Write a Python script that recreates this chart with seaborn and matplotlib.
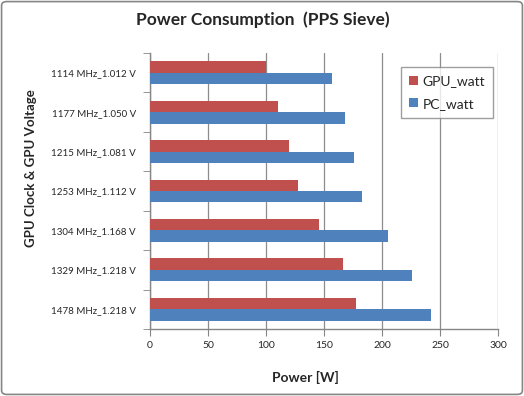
import matplotlib
matplotlib.use("Agg")
import matplotlib.pyplot as plt
import seaborn as sns
import pandas as pd
from matplotlib.patches import FancyBboxPatch
from matplotlib.ticker import FixedLocator, MultipleLocator

categories = ["1114 MHz_1.012 V", "1177 MHz_1.050 V", "1215 MHz_1.081 V",
              "1253 MHz_1.112 V", "1304 MHz_1.168 V", "1329 MHz_1.218 V",
              "1478 MHz_1.218 V"]
gpu_watt = [100, 110, 120, 128, 146, 166, 178]
pc_watt = [157, 168, 176, 183, 205, 226, 242]
series = ["GPU_watt", "PC_watt"]
colors = ["#C0504D", "#4F81BD"]

df = pd.DataFrame({
    "cat": categories * 2,
    "val": gpu_watt + pc_watt,
    "series": [series[0]] * len(categories) + [series[1]] * len(categories),
})

sns.set_style("white")
plt.rcParams["font.family"] = ["Lato", "DejaVu Sans"]

fig = plt.figure(figsize=(5.24, 3.96), dpi=100)
ax = fig.add_axes([150 / 524, 1 - 329 / 396, 348 / 524, 276 / 396])

sns.barplot(data=df, y="cat", x="val", hue="series", order=categories,
            hue_order=series, palette=colors, width=0.58, ax=ax,
            saturation=1, edgecolor="none", legend=True, zorder=3)

ax.set_xlim(0, 300)
ax.set_ylim(len(categories) - 0.5, -0.5)
ax.xaxis.set_major_locator(MultipleLocator(50))
ax.grid(axis="x", color="#8c8c8c", linewidth=0.9, zorder=0)
ax.set_axisbelow(True)
for s in ["top", "right"]:
    ax.spines[s].set_visible(False)
for s in ["left", "bottom"]:
    ax.spines[s].set_color("#868686")
    ax.spines[s].set_linewidth(1)

ax.tick_params(axis="x", which="major", length=5, color="#868686",
               labelsize=7.5, pad=4, direction="out", bottom=True)
ax.tick_params(axis="y", which="major", length=0, labelsize=7, pad=10)
ax.yaxis.set_minor_locator(FixedLocator([i - 0.5 for i in range(len(categories) + 1)]))
ax.tick_params(axis="y", which="minor", length=5, color="#868686", left=True)

ax.set_xlabel("Power [W]", fontsize=10, fontweight="bold")
ax.xaxis.set_label_coords((305 - 150) / 348, -(371 - 329) / 276)
ax.set_ylabel("GPU Clock & GPU Voltage", fontsize=9.5, fontweight="bold")
ax.yaxis.set_label_coords(-(150 - 37) / 348, (329 - 168) / 276)

fig.text(263 / 524, 1 - 20 / 396, "Power Consumption  (PPS Sieve)",
         ha="center", va="center", fontsize=12.5, fontweight="bold")

leg = ax.legend(loc="upper left", bbox_to_anchor=((401 - 150) / 348, (329 - 67) / 276),
                frameon=True, fontsize=10, handlelength=0.6, handleheight=0.6,
                borderpad=0.6, labelspacing=0.75, handletextpad=0.35,
                borderaxespad=0, fancybox=False)
leg.get_frame().set_edgecolor("#868686")
leg.get_frame().set_linewidth(1)
leg.set_zorder(5)

border = FancyBboxPatch((0.003, 0.004), 0.994, 0.992,
                        boxstyle="round,pad=0,rounding_size=0.01",
                        transform=fig.transFigure, fill=False,
                        edgecolor="#868686", linewidth=1.2)
fig.patches.append(border)

fig.savefig("out.png", dpi=100)
